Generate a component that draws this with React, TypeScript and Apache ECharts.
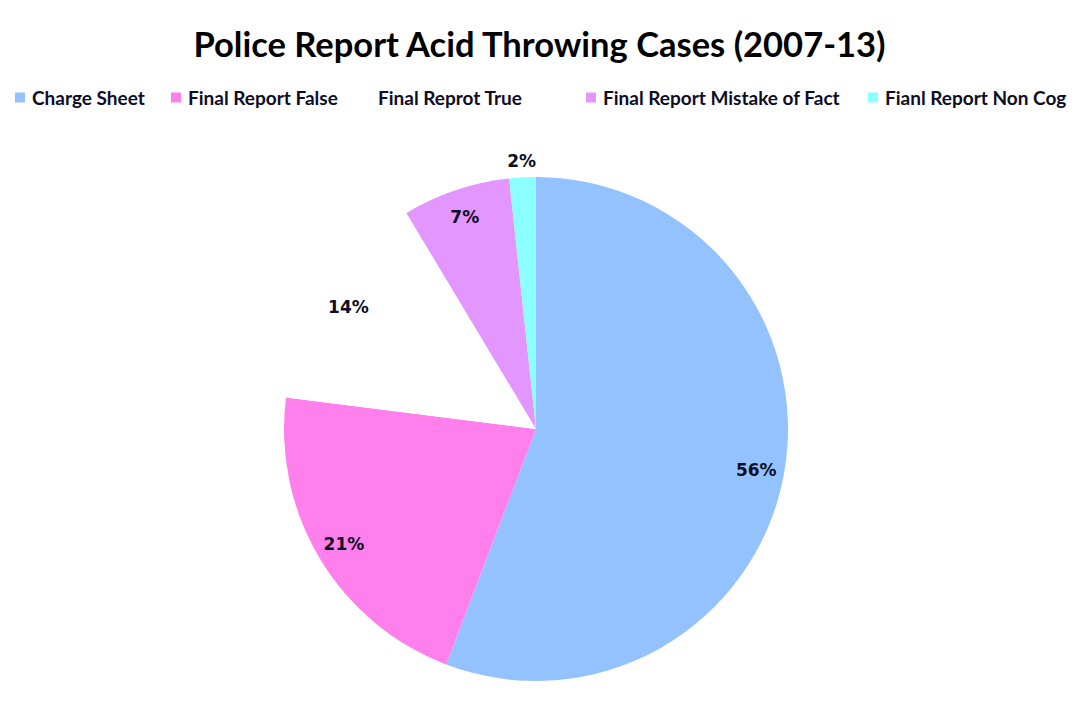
import React, { useEffect, useRef } from "react";
import * as echarts from "echarts";

const titleText = "Police Report Acid Throwing Cases (2007-13)";
const categories = [
  "Charge Sheet",
  "Final Report False",
  "Final Reprot True",
  "Final Report Mistake of Fact",
  "Fianl Report Non Cog",
];
const values = [55.8, 21.2, 14.4, 6.9, 1.7];
const colors = ["#94C2FF", "#FF80EC", "#FFFFFF", "#E496FF", "#8CFFFF"];
const legendLeft = [10, 166, 356, 581, 863];

const TEXT = "#0D0D26";
const SANS = "Lato, 'Open Sans', sans-serif";

export default function App() {
  const ref = useRef<HTMLDivElement>(null);
  useEffect(() => {
    document.body.style.margin = "0";
    if (!ref.current) return;
    const chart = echarts.init(ref.current, null, { renderer: "svg" });
    const fmt = (p: any) => `${Math.round(p.percent)}%`;
    const labelStyle = {
      fontFamily: "'DejaVu Sans', sans-serif",
      fontWeight: "bold",
      fontSize: 17,
      color: TEXT,
    };
    const center = [536, 429];
    const mainData = categories.map((c, i) => ({
      name: c,
      value: values[i],
      itemStyle: { color: colors[i] },
    }));
    const lastIdx = categories.length - 1;
    chart.setOption({
      animation: false,
      backgroundColor: "#ffffff",
      title: {
        text: titleText,
        left: "center",
        top: 21,
        textStyle: {
          fontFamily: SANS,
          fontWeight: "bold",
          fontSize: 34.5,
          color: "#000000",
        },
      },
      legend: categories.map((c, i) => ({
        data: [{ name: c, itemStyle: { color: colors[i] } }],
        left: legendLeft[i],
        top: 83,
        icon: "rect",
        itemWidth: 10,
        itemHeight: 10,
        selectedMode: false,
        textStyle: {
          fontFamily: SANS,
          fontWeight: "bold",
          fontSize: 19,
          color: TEXT,
          padding: [0, 0, 0, 2],
        },
      })),
      series: [
        {
          type: "pie",
          center,
          radius: 252,
          startAngle: 90,
          clockwise: true,
          label: { show: false },
          labelLine: { show: false },
          silent: true,
          data: mainData,
        },
        {
          type: "pie",
          center,
          radius: [0, 442],
          startAngle: 90,
          clockwise: true,
          silent: true,
          itemStyle: { color: "rgba(0,0,0,0)" },
          labelLine: { show: false },
          label: { show: true, position: "inside", formatter: fmt, ...labelStyle },
          data: categories.map((c, i) => ({
            name: c,
            value: values[i],
            itemStyle: { color: "rgba(0,0,0,0)" },
            label: { show: i !== lastIdx },
          })),
        },
        {
          type: "pie",
          center,
          radius: [0, 530],
          startAngle: 90,
          clockwise: true,
          silent: true,
          itemStyle: { color: "rgba(0,0,0,0)" },
          labelLine: { show: false },
          label: { show: true, position: "inside", formatter: fmt, ...labelStyle },
          data: categories.map((c, i) => ({
            name: c,
            value: values[i],
            itemStyle: { color: "rgba(0,0,0,0)" },
            label: { show: i === lastIdx },
          })),
        },
      ],
    });
    return () => chart.dispose();
  }, []);
  return <div ref={ref} style={{ width: 1079, height: 706 }} />;
}
